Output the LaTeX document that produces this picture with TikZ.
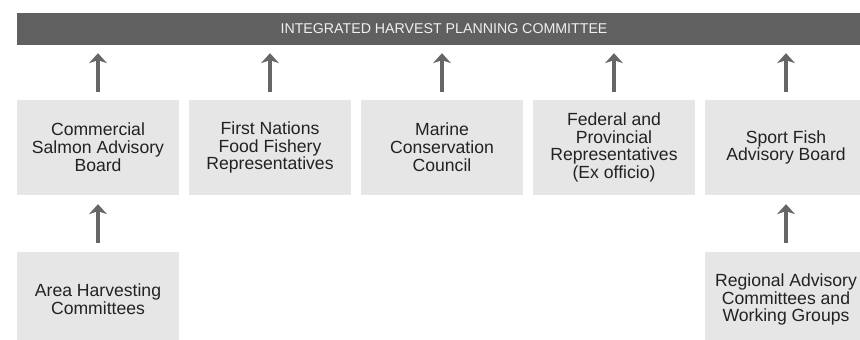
\documentclass[tikz,border=0pt]{standalone}
\usepackage{fontspec}
\setmainfont{Liberation Sans}
\usetikzlibrary{arrows.meta}
\definecolor{bargray}{HTML}{606060}
\definecolor{boxgray}{HTML}{E6E6E6}
\definecolor{arrowgray}{HTML}{666666}
\definecolor{textgray}{HTML}{222222}
\tikzset{
  topbar/.style={fill=bargray, text=white!94!black, minimum width=854pt, minimum height=32pt,
    inner sep=0pt, font=\fontsize{14.2}{16}\selectfont},
  groupbox/.style={fill=boxgray, text=textgray, minimum width=162pt, minimum height=95pt,
    inner sep=0pt, align=center, font=\fontsize{17.6}{17.8}\selectfont},
  uparrow/.style={draw=arrowgray, line width=4pt, shorten <=8pt, shorten >=8pt,
    -{Stealth[width=18pt,length=10pt,inset=3pt]}}
}

\begin{document}
\begin{tikzpicture}[x=1pt, y=1pt]
			%%%%% START %%%%%
			\useasboundingbox (0, 0) rectangle (860, -340);
			
			\node[topbar] (ipc) at (444, -29) {INTEGRATED HARVEST PLANNING COMMITTEE};
			
			\node[groupbox] (csab) at (98, -147.5) {Commercial\\Salmon Advisory\\Board};
			\node[groupbox] (fnff) at (270, -147.5) {First Nations\\Food Fishery\\Representatives};
			\node[groupbox] (mcc) at (442, -147.5) {Marine\\Conservation\\Council};
			\node[groupbox] (fpr) at (614, -147.5) {Federal and\\Provincial\\Representatives\\(Ex officio)};
			\node[groupbox] (sfab) at (786, -147.5) {Sport Fish\\Advisory Board};
			
			\node[groupbox] (ahc) at (98, -299.5) {Area Harvesting\\Committees};
			\node[groupbox] (racw) at (786, -299.5) {Regional Advisory\\Committees and\\Working Groups};
			
			\draw[uparrow] (csab.north) -- (csab.north |- ipc.south);
			\draw[uparrow] (fnff.north) -- (fnff.north |- ipc.south);
			\draw[uparrow] (mcc.north) -- (mcc.north |- ipc.south);
			\draw[uparrow] (fpr.north) -- (fpr.north |- ipc.south);
			\draw[uparrow] (sfab.north) -- (sfab.north |- ipc.south);
			
			\draw[uparrow, shorten >=9pt, shorten <=9pt] (ahc) -- (csab);
			\draw[uparrow, shorten >=9pt, shorten <=9pt] (racw) -- (sfab);
			%%%%% END %%%%%
\end{tikzpicture}
\end{document}
